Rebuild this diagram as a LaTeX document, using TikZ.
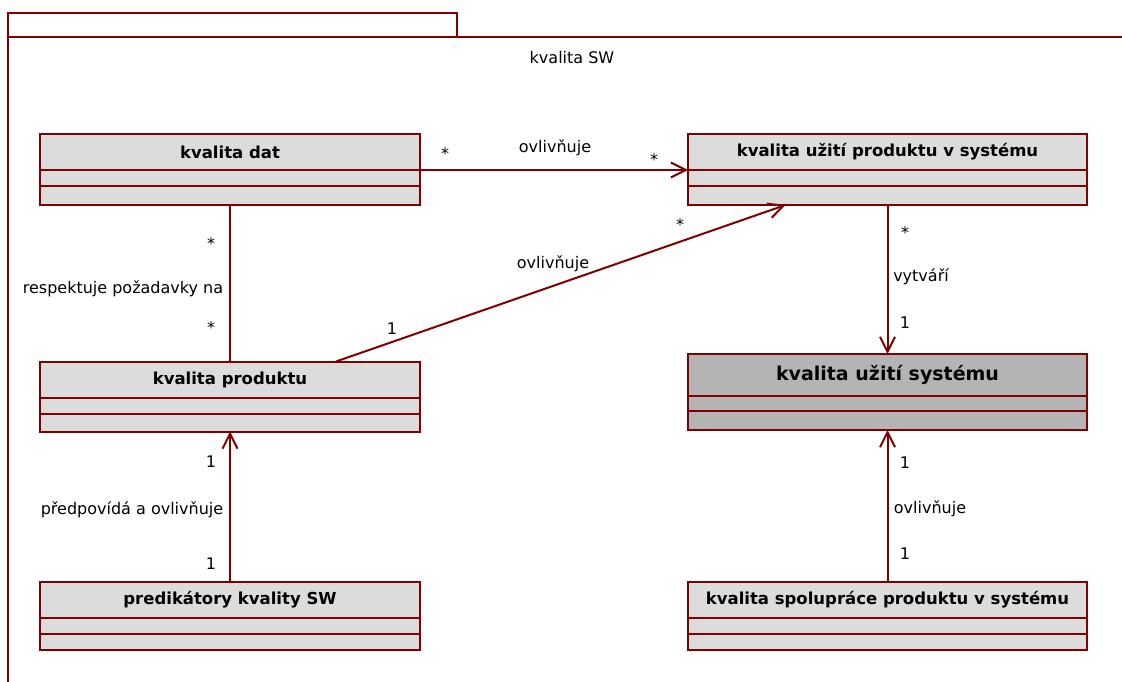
\documentclass[tikz,border=0pt]{standalone}
\usepackage{fontspec}
\setmainfont{DejaVu Sans}
\usetikzlibrary{positioning,arrows.meta}
\definecolor{umlred}{RGB}{128,0,0}
\definecolor{umlgray}{RGB}{220,220,220}
\definecolor{umldark}{RGB}{180,180,180}

\tikzset{
  classname/.style={draw=umlred, fill=umlgray, line width=2pt, outer sep=0pt, inner sep=0pt,
    minimum width=380pt, minimum height=36pt, font=\fontsize{16.5}{19}\selectfont\bfseries},
  compart/.style={draw=umlred, fill=umlgray, line width=2pt, outer sep=0pt, inner sep=0pt,
    minimum width=380pt, minimum height=16pt},
  assoc/.style={draw=umlred, line width=2pt},
  navig/.style={assoc, -{Straight Barb[length=15pt,width=15pt]}},
  lbl/.style={font=\fontsize{16}{18}\selectfont, inner sep=0pt, text height=11pt, text depth=3pt}
}

\begin{document}
\begin{tikzpicture}[x=1pt,y=-1pt]
\useasboundingbox (0,0) rectangle (1122,682);

% package frame
\draw[umlred, line width=2pt] (8,682) -- (8,13) -- (457,13) -- (457,37);
\draw[umlred, line width=2pt] (8,37) -- (1122,37);
\node[lbl] (pkg) at (572,60) {kvalita SW};

% left column
\node[classname] (dat) at (230,152) {kvalita dat};
\node[compart, below=0pt of dat] (dat2) {};
\node[compart, below=0pt of dat2, minimum height=19pt] (dat3) {};

\node[classname] (produkt) at (230,379.5) {kvalita produktu};
\node[compart, below=0pt of produkt] (produkt2) {};
\node[compart, below=0pt of produkt2, minimum height=18pt] (produkt3) {};

\node[classname] (prediktory) at (230,600) {predikátory kvality SW};
\node[compart, below=0pt of prediktory] (prediktory2) {};
\node[compart, below=0pt of prediktory2, minimum height=16pt] (prediktory3) {};

% right column
\node[classname, minimum width=399pt] (uzitiprod) at (887.5,152) {kvalita užití produktu v systému};
\node[compart, minimum width=399pt, below=0pt of uzitiprod] (uzitiprod2) {};
\node[compart, minimum width=399pt, below=0pt of uzitiprod2, minimum height=19pt] (uzitiprod3) {};

\node[classname, minimum width=399pt, minimum height=42pt, fill=umldark,
      font=\fontsize{19}{22}\selectfont\bfseries] (uzitisys) at (887.5,375) {kvalita užití systému};
\node[compart, minimum width=399pt, fill=umldark, below=0pt of uzitisys, minimum height=15pt] (uzitisys2) {};
\node[compart, minimum width=399pt, fill=umldark, below=0pt of uzitisys2, minimum height=19pt] (uzitisys3) {};

\node[classname, minimum width=399pt] (spoluprace) at (887.5,600) {kvalita spolupráce produktu v systému};
\node[compart, minimum width=399pt, below=0pt of spoluprace] (spoluprace2) {};
\node[compart, minimum width=399pt, below=0pt of spoluprace2, minimum height=16pt] (spoluprace3) {};

% associations
\draw[navig] (dat.south east) -- (uzitiprod.south west);
\draw[assoc] (dat3.south) -- (produkt.north);
\draw[navig] ([xshift=106pt]produkt.north) -- ([xshift=-102pt]uzitiprod3.south);
\draw[navig] (uzitiprod3.south) -- (uzitisys.north);
\draw[navig] (prediktory.north) -- (produkt3.south);
\draw[navig] (spoluprace.north) -- (uzitisys3.south);

% labels
\node[lbl] (m1) at (445,156) {*};
\node[lbl] (a1) at (555,149) {ovlivňuje};
\node[lbl] (m2) at (654,161) {*};

\node[lbl] (m3) at (211,245) {*};
\node[lbl] (a2) at (123,289) {respektuje požadavky na};
\node[lbl] (m4) at (211,329) {*};

\node[lbl] (m5) at (392,330) {1};
\node[lbl] (a3) at (553,264) {ovlivňuje};
\node[lbl] (m6) at (680,226) {*};

\node[lbl] (m7) at (905,234) {*};
\node[lbl] (a4) at (921,277) {vytváří};
\node[lbl] (m8) at (905,324) {1};

\node[lbl] (m9) at (211,463) {1};
\node[lbl] (a5) at (132,510) {předpovídá a ovlivňuje};
\node[lbl] (m10) at (211,565) {1};

\node[lbl] (m11) at (905,464) {1};
\node[lbl] (a6) at (930,509) {ovlivňuje};
\node[lbl] (m12) at (905,555) {1};
\end{tikzpicture}
\end{document}
